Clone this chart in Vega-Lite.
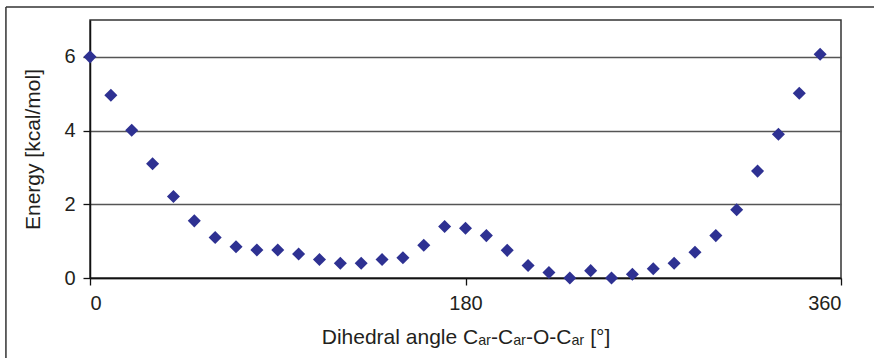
{
  "$schema": "https://vega.github.io/schema/vega-lite/v6.json",
  "autosize": "none",
  "width": 751,
  "height": 258,
  "padding": {"left": 90, "top": 20, "right": 33, "bottom": 80},
  "background": "white",
  "config": {
    "font": "Liberation Sans",
    "view": {"stroke": "#333333", "strokeWidth": 1.5},
    "axis": {
      "labelFont": "Liberation Sans",
      "titleFont": "Liberation Sans",
      "labelFontSize": 20,
      "titleFontSize": 21,
      "titleFontWeight": "normal",
      "labelColor": "#231F20",
      "titleColor": "#231F20",
      "domainColor": "#111111",
      "domainWidth": 1.5,
      "tickColor": "#111111",
      "tickWidth": 1.3,
      "tickSize": 7
    }
  },
  "data": {
    "values": [
      {"angle": 0, "energy": 6.0},
      {"angle": 10, "energy": 4.96},
      {"angle": 20, "energy": 4.01},
      {"angle": 30, "energy": 3.1},
      {"angle": 40, "energy": 2.21},
      {"angle": 50, "energy": 1.55},
      {"angle": 60, "energy": 1.1},
      {"angle": 70, "energy": 0.85},
      {"angle": 80, "energy": 0.76},
      {"angle": 90, "energy": 0.76},
      {"angle": 100, "energy": 0.65},
      {"angle": 110, "energy": 0.5},
      {"angle": 120, "energy": 0.4},
      {"angle": 130, "energy": 0.4},
      {"angle": 140, "energy": 0.5},
      {"angle": 150, "energy": 0.55},
      {"angle": 160, "energy": 0.89},
      {"angle": 170, "energy": 1.4},
      {"angle": 180, "energy": 1.35},
      {"angle": 190, "energy": 1.15},
      {"angle": 200, "energy": 0.75},
      {"angle": 210, "energy": 0.34},
      {"angle": 220, "energy": 0.15},
      {"angle": 230, "energy": 0.0},
      {"angle": 240, "energy": 0.2},
      {"angle": 250, "energy": 0.0},
      {"angle": 260, "energy": 0.1},
      {"angle": 270, "energy": 0.25},
      {"angle": 280, "energy": 0.4},
      {"angle": 290, "energy": 0.7},
      {"angle": 300, "energy": 1.15},
      {"angle": 310, "energy": 1.85},
      {"angle": 320, "energy": 2.9},
      {"angle": 330, "energy": 3.9},
      {"angle": 340, "energy": 5.01},
      {"angle": 350, "energy": 6.07}
    ]
  },
  "layer": [
    {
      "mark": {"type": "point", "shape": "diamond", "filled": true, "size": 170, "color": "#2E3192", "opacity": 1},
      "encoding": {
        "x": {
          "field": "angle",
          "type": "quantitative",
          "scale": {"domain": [0, 360], "nice": false, "zero": false},
          "axis": {
            "values": [0, 180, 360],
            "grid": false,
            "labelPadding": 8,
            "title": "Dihedral angle Cₐᵣ-Cₐᵣ-O-Cₐᵣ [°]",
            "titlePadding": 13
          }
        },
        "y": {
          "field": "energy",
          "type": "quantitative",
          "scale": {"domain": [0, 7], "nice": false},
          "axis": {
            "values": [0, 2, 4, 6],
            "grid": true,
            "gridColor": "#555555",
            "gridWidth": 1.3,
            "labelPadding": 8,
            "title": "Energy [kcal/mol]",
            "titlePadding": 20
          }
        }
      }
    },
    {
      "data": {"values": [{"x1": -40.3, "x2": 376, "y1": 7.35, "y2": 7.35}, {"x1": -40.3, "x2": -40.3, "y1": 7.35, "y2": -2.3}]},
      "mark": {"type": "rule", "color": "#333333", "strokeWidth": 1.5, "clip": false},
      "encoding": {
        "x": {"field": "x1", "type": "quantitative"},
        "x2": {"field": "x2"},
        "y": {"field": "y1", "type": "quantitative"},
        "y2": {"field": "y2"}
      }
    }
  ]
}
